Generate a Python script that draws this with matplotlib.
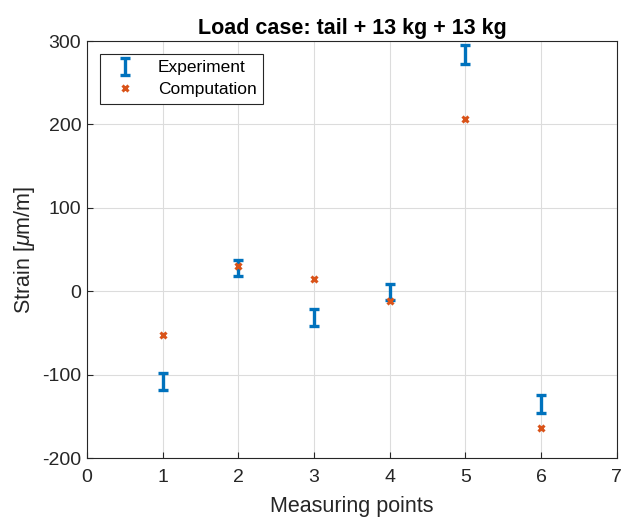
import matplotlib
matplotlib.use("Agg")
import matplotlib.pyplot as plt

points = [1, 2, 3, 4, 5, 6]
exp_mean = [-108, 28, -31, -1, 284, -135]
exp_err = [10, 10, 10, 10, 11, 11]
computed = [-52, 30, 15, -12, 206, -164]

plt.rcParams['font.family'] = ['Liberation Sans', 'DejaVu Sans']
plt.rcParams['mathtext.fontset'] = 'custom'
plt.rcParams['mathtext.it'] = 'Liberation Sans:italic'
plt.rcParams['axes.unicode_minus'] = False

fig = plt.figure(figsize=(6.25, 5.2), dpi=100)
ax = fig.add_axes([0.139, 0.119, 0.848, 0.802])

eb = ax.errorbar(points, exp_mean, yerr=exp_err, fmt='none', ecolor='#0072BD',
                 elinewidth=2.4, capsize=3.5, capthick=2.4, label='Experiment')
cp, = ax.plot(points, computed, 'x', color='#D95319', markersize=5, mew=2.2,
              label='Computation')

ax.set_xlim(0, 7)
ax.set_ylim(-200, 300)
ax.set_xticks(range(0, 8))
ax.set_yticks(range(-200, 301, 100))
ax.grid(True, color='#dcdcdc', linewidth=0.8)
ax.set_axisbelow(True)
ax.tick_params(direction='in', labelsize=14, colors='#262626', length=4)
ax.tick_params(axis='x', pad=8)
ax.tick_params(axis='y', pad=4)
for s in ax.spines.values():
    s.set_color('#262626')
    s.set_linewidth(0.8)

ax.set_xlabel('Measuring points', fontsize=15.5, color='#262626', labelpad=7)
ax.set_ylabel(r'Strain [$\mu$m/m]', fontsize=15.5, color='#262626', labelpad=4)
ax.set_title('Load case: tail + 13 kg + 13 kg', fontsize=15.5, fontweight='bold',
             pad=5)

leg = ax.legend([eb, cp], ['Experiment', 'Computation'], loc='upper left',
                fontsize=12.5, fancybox=False, edgecolor='#262626', framealpha=1,
                borderaxespad=0.75, handlelength=2.2, labelspacing=0.4,
                borderpad=0.35, handletextpad=0.8)
leg.get_frame().set_linewidth(0.8)

fig.savefig('out.png', dpi=100)
